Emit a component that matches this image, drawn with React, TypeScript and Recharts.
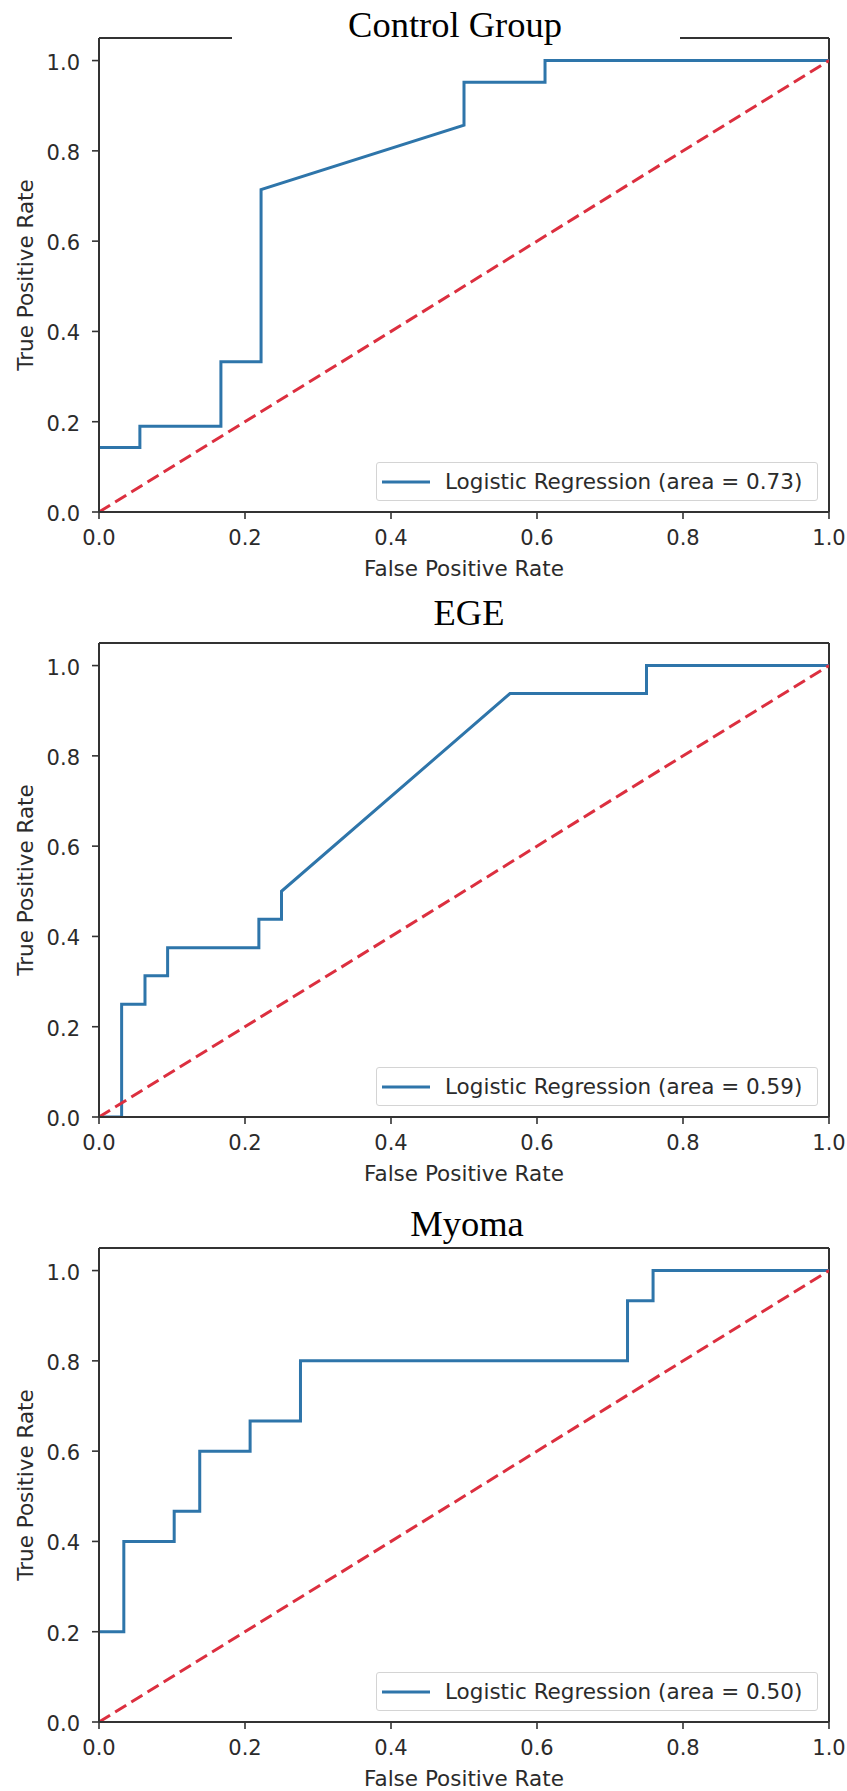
import { LineChart, Line, XAxis, YAxis, ReferenceLine, Legend, Label } from "recharts";

// ROC points (where the curve hugs the left spine it is hidden, so it starts at its first visible point)
const controlFpr = [0, 0.056, 0.056, 0.167, 0.167, 0.222, 0.222, 0.5, 0.5, 0.611, 0.611, 1.0];
const controlTpr = [0.143, 0.143, 0.19, 0.19, 0.333, 0.333, 0.714, 0.857, 0.952, 0.952, 1.0, 1.0];

const egeFpr = [0, 0.031, 0.031, 0.063, 0.063, 0.094, 0.094, 0.219, 0.219, 0.25, 0.25, 0.563, 0.75, 0.75, 1.0];
const egeTpr = [0, 0, 0.25, 0.25, 0.313, 0.313, 0.375, 0.375, 0.438, 0.438, 0.5, 0.938, 0.938, 1.0, 1.0];

const myomaFpr = [0, 0.034, 0.034, 0.103, 0.103, 0.138, 0.138, 0.207, 0.207, 0.276, 0.276, 0.724, 0.724, 0.759, 0.759, 1.0];
const myomaTpr = [0.2, 0.2, 0.4, 0.4, 0.467, 0.467, 0.6, 0.6, 0.667, 0.667, 0.8, 0.8, 0.933, 0.933, 1.0, 1.0];

const diagX = [0, 1];
const diagY = [0, 1];

const titles = ["Control Group", "EGE", "Myoma"];
const areas = ["0.73", "0.59", "0.50"];
const tickValues = [0, 0.2, 0.4, 0.6, 0.8, 1.0];

const BLUE = "#2e75aa";
const RED = "#dc2f3f";
const INK = "#2b2b2b";
const SPINE = "#333";
const SANS = "'DejaVu Sans', sans-serif";

const toPoints = (xs: number[], ys: number[]) => xs.map((x, i) => ({ x, y: ys[i] }));

const XTick = ({ x, y, payload }: any) => (
  <text x={x} y={y + 26} textAnchor="middle" fontFamily={SANS} fontSize={21} fill={INK}>
    {Number(payload.value).toFixed(1)}
  </text>
);

const YTick = ({ x, y, payload }: any) => (
  <text x={x} y={y + 9} textAnchor="end" fontFamily={SANS} fontSize={21} fill={INK}>
    {Number(payload.value).toFixed(1)}
  </text>
);

const XTitle = ({ viewBox }: any) => (
  <text x={viewBox.x + viewBox.width / 2} y={viewBox.y + 64} textAnchor="middle" fontFamily={SANS} fontSize={21.5} fill={INK}>
    False Positive Rate
  </text>
);

const YTitle = ({ viewBox }: any) => {
  const cy = viewBox.y + viewBox.height / 2;
  return (
    <text x={33} y={cy} transform={`rotate(-90, 33, ${cy})`} textAnchor="middle" fontFamily={SANS} fontSize={21.5} fill={INK}>
      True Positive Rate
    </text>
  );
};

function RocPanel({ fpr, tpr, area }: { fpr: number[]; tpr: number[]; area: string }) {
  const roc = toPoints(fpr, tpr);
  const diag = toPoints(diagX, diagY);
  const renderLegend = () => (
    <div
      style={{
        width: 442,
        height: 39,
        boxSizing: "border-box",
        border: "1px solid #d4d4d4",
        borderRadius: 3,
        background: "rgba(255,255,255,0.85)",
        display: "flex",
        alignItems: "center",
        fontFamily: SANS,
        fontSize: 21.5,
        color: INK,
      }}
    >
      <svg width={66} height={10} style={{ flex: "none" }}>
        <line x1={5} x2={53} y1={5} y2={5} stroke={BLUE} strokeWidth={3} />
      </svg>
      <span style={{ whiteSpace: "nowrap", marginLeft: 2 }}>Logistic Regression (area = {area})</span>
    </div>
  );
  return (
    <LineChart width={847} height={580} margin={{ top: 38, right: 18, bottom: 0, left: 40 }}>
      <XAxis
        type="number"
        dataKey="x"
        domain={[0, 1]}
        ticks={tickValues}
        allowDataOverflow
        height={68}
        tickSize={7}
        tickMargin={0}
        tick={<XTick />}
        axisLine={{ stroke: SPINE, strokeWidth: 2 }}
        tickLine={{ stroke: SPINE, strokeWidth: 1.6 }}
      >
        <Label content={<XTitle />} />
      </XAxis>
      <YAxis
        type="number"
        domain={[0, 1.05]}
        ticks={tickValues}
        allowDataOverflow
        width={59}
        tickSize={7}
        tickMargin={12}
        tick={<YTick />}
        axisLine={{ stroke: SPINE, strokeWidth: 2 }}
        tickLine={{ stroke: SPINE, strokeWidth: 1.6 }}
      >
        <Label content={<YTitle />} />
      </YAxis>
      <ReferenceLine y={1.05} stroke={SPINE} strokeWidth={2} />
      <ReferenceLine x={1} stroke={SPINE} strokeWidth={2} />
      <Line
        data={roc}
        dataKey="y"
        name="roc"
        type="linear"
        stroke={BLUE}
        strokeWidth={3}
        dot={false}
        isAnimationActive={false}
      />
      <Line
        data={diag}
        dataKey="y"
        name="diag"
        type="linear"
        stroke={RED}
        strokeWidth={3}
        strokeDasharray="13 6"
        dot={false}
        legendType="none"
        isAnimationActive={false}
      />
      <Legend
        layout="horizontal"
        verticalAlign="middle"
        align="center"
        wrapperStyle={{ left: 376, top: 462, width: 442, height: 39 }}
        content={renderLegend}
      />
    </LineChart>
  );
}

export default function App() {
  const panels = [
    { fpr: controlFpr, tpr: controlTpr },
    { fpr: egeFpr, tpr: egeTpr },
    { fpr: myomaFpr, tpr: myomaTpr },
  ];
  const titleX = [455, 469, 467];
  const titleY = [37, 625, 1236];
  return (
    <div style={{ position: "absolute", left: 0, top: 0, width: 847, height: 1791, background: "#fff" }}>
      {panels.map((p, i) => (
        <div key={i} style={{ position: "absolute", left: 0, top: i * 605 }}>
          <RocPanel fpr={p.fpr} tpr={p.tpr} area={areas[i]} />
        </div>
      ))}
      <svg width={847} height={1791} style={{ position: "absolute", left: 0, top: 0, pointerEvents: "none" }}>
        <rect x={232} y={0} width={448} height={42} fill="#fff" />
        {titles.map((t, i) => (
          <text
            key={t}
            x={titleX[i]}
            y={titleY[i]}
            textAnchor="middle"
            fontFamily="'Liberation Serif', 'Times New Roman', serif"
            fontSize={36.5}
            fill="#000"
          >
            {t}
          </text>
        ))}
      </svg>
    </div>
  );
}
